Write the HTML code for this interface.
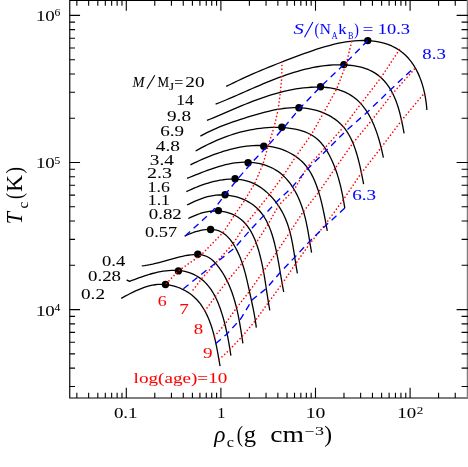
<!DOCTYPE html>
<html><head><meta charset="utf-8"><title>Tc vs rho_c</title>
<style>html,body{margin:0;padding:0;background:#fff;}body{width:468px;height:467px;overflow:hidden;font-family:"Liberation Serif",serif;}svg{display:block;}</style></head>
<body>
<svg width="468" height="467" viewBox="0 0 468 467">
<rect x="0" y="0" width="468" height="467" fill="#fff"/>
<g stroke="#000" stroke-width="1.15" fill="none" stroke-linecap="butt">
<path d="M468.00 0.50 H69.75 V397.95 H468.00"/>
<path d="M467.4 0 V398.5" stroke="#7c7c7c" stroke-width="1.25"/>
<path d="M76.84 397.95 v-5.30 M76.84 0.50 v5.30 M88.65 397.95 v-5.30 M88.65 0.50 v5.30 M97.82 397.95 v-5.30 M97.82 0.50 v5.30 M105.31 397.95 v-5.30 M105.31 0.50 v5.30 M111.65 397.95 v-5.30 M111.65 0.50 v5.30 M117.13 397.95 v-5.30 M117.13 0.50 v5.30 M121.97 397.95 v-5.30 M121.97 0.50 v5.30 M126.30 397.95 v-10.30 M126.30 0.50 v10.30 M154.78 397.95 v-5.30 M154.78 0.50 v5.30 M171.44 397.95 v-5.30 M171.44 0.50 v5.30 M183.25 397.95 v-5.30 M183.25 0.50 v5.30 M192.42 397.95 v-5.30 M192.42 0.50 v5.30 M199.91 397.95 v-5.30 M199.91 0.50 v5.30 M206.25 397.95 v-5.30 M206.25 0.50 v5.30 M211.73 397.95 v-5.30 M211.73 0.50 v5.30 M216.57 397.95 v-5.30 M216.57 0.50 v5.30 M220.90 397.95 v-10.30 M220.90 0.50 v10.30 M249.38 397.95 v-5.30 M249.38 0.50 v5.30 M266.04 397.95 v-5.30 M266.04 0.50 v5.30 M277.85 397.95 v-5.30 M277.85 0.50 v5.30 M287.02 397.95 v-5.30 M287.02 0.50 v5.30 M294.51 397.95 v-5.30 M294.51 0.50 v5.30 M300.85 397.95 v-5.30 M300.85 0.50 v5.30 M306.33 397.95 v-5.30 M306.33 0.50 v5.30 M311.17 397.95 v-5.30 M311.17 0.50 v5.30 M315.50 397.95 v-10.30 M315.50 0.50 v10.30 M343.98 397.95 v-5.30 M343.98 0.50 v5.30 M360.64 397.95 v-5.30 M360.64 0.50 v5.30 M372.45 397.95 v-5.30 M372.45 0.50 v5.30 M381.62 397.95 v-5.30 M381.62 0.50 v5.30 M389.11 397.95 v-5.30 M389.11 0.50 v5.30 M395.45 397.95 v-5.30 M395.45 0.50 v5.30 M400.93 397.95 v-5.30 M400.93 0.50 v5.30 M405.77 397.95 v-5.30 M405.77 0.50 v5.30 M410.10 397.95 v-10.30 M410.10 0.50 v10.30 M438.58 397.95 v-5.30 M438.58 0.50 v5.30 M455.24 397.95 v-5.30 M455.24 0.50 v5.30 M69.75 386.52 h5.30 M468.00 386.52 h-6.40 M69.75 368.14 h5.30 M468.00 368.14 h-6.40 M69.75 353.88 h5.30 M468.00 353.88 h-6.40 M69.75 342.23 h5.30 M468.00 342.23 h-6.40 M69.75 332.39 h5.30 M468.00 332.39 h-6.40 M69.75 323.86 h5.30 M468.00 323.86 h-6.40 M69.75 316.33 h5.30 M468.00 316.33 h-6.40 M69.75 309.60 h10.30 M468.00 309.60 h-11.40 M69.75 265.32 h5.30 M468.00 265.32 h-6.40 M69.75 239.42 h5.30 M468.00 239.42 h-6.40 M69.75 221.04 h5.30 M468.00 221.04 h-6.40 M69.75 206.78 h5.30 M468.00 206.78 h-6.40 M69.75 195.13 h5.30 M468.00 195.13 h-6.40 M69.75 185.29 h5.30 M468.00 185.29 h-6.40 M69.75 176.76 h5.30 M468.00 176.76 h-6.40 M69.75 169.23 h5.30 M468.00 169.23 h-6.40 M69.75 162.50 h10.30 M468.00 162.50 h-11.40 M69.75 118.22 h5.30 M468.00 118.22 h-6.40 M69.75 92.32 h5.30 M468.00 92.32 h-6.40 M69.75 73.94 h5.30 M468.00 73.94 h-6.40 M69.75 59.68 h5.30 M468.00 59.68 h-6.40 M69.75 48.03 h5.30 M468.00 48.03 h-6.40 M69.75 38.19 h5.30 M468.00 38.19 h-6.40 M69.75 29.66 h5.30 M468.00 29.66 h-6.40 M69.75 22.13 h5.30 M468.00 22.13 h-6.40 M69.75 15.40 h10.30 M468.00 15.40 h-11.40" stroke-width="1.1"/>
</g>
<g stroke="#000" stroke-width="1.3" fill="none" stroke-linecap="butt" stroke-linejoin="round">
<path d="M226.20 86.42 L230.09 84.48 L233.98 82.58 L237.86 80.72 L241.74 78.91 L245.61 77.13 L249.48 75.39 L253.35 73.69 L257.23 72.01 L261.11 70.37 L264.99 68.75 L268.88 67.15 L272.78 65.58 L276.70 64.02 L280.62 62.48 L284.56 60.96 L288.52 59.45 L292.50 57.94 L296.49 56.45 L300.51 54.96 L304.55 53.48 L308.61 52.02 L312.69 50.60 L316.79 49.23 L320.90 47.91 L325.04 46.67 L329.19 45.51 L333.35 44.43 L337.53 43.47 L341.72 42.62 L345.92 41.90 L350.13 41.31 L354.36 40.88 L358.59 40.61 L362.83 40.52 L367.08 40.61 L371.33 40.90 L375.57 41.40 L379.76 42.14 L383.87 43.14 L387.88 44.41 L391.77 45.97 L395.49 47.85 L399.04 50.04 L402.39 52.52 L405.54 55.27 L408.46 58.29 L411.14 61.57 L413.58 65.06 L415.78 68.76 L417.77 72.62 L419.53 76.62 L421.09 80.72 L422.45 84.91 L423.62 89.14 L424.60 93.39 L425.41 97.63 L426.06 101.84 L426.55 105.97 L426.88 110.00"/>
<path d="M215.61 104.19 L219.24 102.75 L222.88 101.26 L226.53 99.74 L230.18 98.19 L233.85 96.61 L237.52 95.01 L241.20 93.40 L244.89 91.77 L248.59 90.14 L252.30 88.52 L256.02 86.90 L259.75 85.30 L263.50 83.71 L267.25 82.15 L271.02 80.63 L274.79 79.13 L278.58 77.68 L282.39 76.28 L286.20 74.93 L290.03 73.64 L293.87 72.41 L297.72 71.26 L301.59 70.18 L305.47 69.18 L309.37 68.27 L313.28 67.46 L317.21 66.74 L321.15 66.13 L325.10 65.63 L329.08 65.24 L333.06 64.97 L337.07 64.84 L341.09 64.83 L345.13 64.97 L349.17 65.25 L353.20 65.71 L357.18 66.36 L361.10 67.23 L364.91 68.35 L368.60 69.72 L372.13 71.38 L375.49 73.35 L378.65 75.63 L381.61 78.20 L384.36 81.03 L386.90 84.10 L389.22 87.39 L391.32 90.85 L393.21 94.48 L394.90 98.24 L396.42 102.11 L397.77 106.05 L398.98 110.03 L400.06 114.04 L401.02 118.04 L401.89 122.00 L402.69 125.90 L403.41 129.71 L404.10 133.40"/>
<path d="M206.99 120.47 L210.46 119.02 L213.93 117.56 L217.39 116.07 L220.87 114.58 L224.34 113.09 L227.82 111.59 L231.30 110.09 L234.79 108.61 L238.29 107.13 L241.79 105.67 L245.30 104.23 L248.83 102.82 L252.36 101.44 L255.90 100.10 L259.46 98.79 L263.03 97.53 L266.62 96.32 L270.22 95.16 L273.83 94.06 L277.47 93.02 L281.12 92.05 L284.79 91.15 L288.48 90.33 L292.19 89.59 L295.92 88.93 L299.68 88.37 L303.45 87.90 L307.26 87.53 L311.08 87.26 L314.93 87.11 L318.78 87.08 L322.63 87.20 L326.44 87.49 L330.21 87.95 L333.92 88.61 L337.56 89.49 L341.11 90.59 L344.55 91.94 L347.87 93.55 L351.05 95.40 L354.08 97.49 L356.94 99.81 L359.62 102.35 L362.12 105.10 L364.45 108.03 L366.62 111.13 L368.63 114.38 L370.49 117.75 L372.21 121.23 L373.80 124.80 L375.26 128.44 L376.61 132.12 L377.84 135.83 L378.97 139.55 L380.01 143.26 L380.96 146.94 L381.84 150.57 L382.64 154.13 L383.38 157.60"/>
<path d="M200.40 136.12 L203.66 134.35 L206.93 132.67 L210.21 131.08 L213.51 129.56 L216.83 128.10 L220.16 126.72 L223.51 125.39 L226.88 124.11 L230.26 122.88 L233.65 121.69 L237.07 120.54 L240.50 119.42 L243.95 118.32 L247.42 117.24 L250.90 116.17 L254.40 115.12 L257.92 114.09 L261.46 113.10 L265.00 112.15 L268.57 111.26 L272.14 110.44 L275.73 109.70 L279.33 109.06 L282.93 108.52 L286.55 108.09 L290.17 107.80 L293.80 107.65 L297.44 107.64 L301.08 107.81 L304.72 108.14 L308.33 108.64 L311.92 109.32 L315.46 110.17 L318.93 111.21 L322.33 112.42 L325.64 113.82 L328.85 115.40 L331.93 117.17 L334.88 119.14 L337.69 121.29 L340.33 123.64 L342.79 126.19 L345.07 128.93 L347.14 131.87 L349.04 134.98 L350.77 138.23 L352.34 141.61 L353.76 145.08 L355.06 148.63 L356.24 152.24 L357.32 155.87 L358.31 159.51 L359.22 163.13 L360.07 166.72 L360.86 170.28 L361.60 173.80 L362.30 177.28 L362.96 180.71 L363.61 184.08"/>
<path d="M195.61 150.99 L198.59 149.31 L201.60 147.67 L204.65 146.08 L207.74 144.53 L210.86 143.04 L214.01 141.60 L217.18 140.21 L220.39 138.88 L223.62 137.61 L226.88 136.40 L230.17 135.26 L233.47 134.18 L236.80 133.18 L240.15 132.24 L243.51 131.38 L246.90 130.60 L250.30 129.89 L253.71 129.27 L257.14 128.73 L260.58 128.28 L264.04 127.91 L267.50 127.64 L270.97 127.46 L274.45 127.38 L277.93 127.39 L281.41 127.50 L284.90 127.72 L288.38 128.06 L291.83 128.52 L295.24 129.13 L298.59 129.89 L301.87 130.82 L305.06 131.94 L308.14 133.26 L311.10 134.79 L313.93 136.55 L316.60 138.55 L319.10 140.80 L321.44 143.30 L323.61 146.00 L325.63 148.88 L327.51 151.90 L329.25 155.03 L330.87 158.23 L332.37 161.46 L333.76 164.72 L335.05 167.99 L336.24 171.28 L337.34 174.58 L338.36 177.90 L339.31 181.23 L340.18 184.57 L340.98 187.92 L341.73 191.28 L342.43 194.65 L343.07 198.03 L343.68 201.42 L344.26 204.80 L344.80 208.19"/>
<path d="M190.43 164.79 L193.26 163.43 L196.14 162.09 L199.06 160.76 L202.03 159.44 L205.04 158.15 L208.09 156.89 L211.17 155.67 L214.29 154.48 L217.43 153.35 L220.60 152.26 L223.80 151.24 L227.01 150.28 L230.24 149.39 L233.49 148.58 L236.74 147.85 L240.01 147.21 L243.28 146.66 L246.56 146.21 L249.84 145.86 L253.11 145.63 L256.38 145.51 L259.64 145.52 L262.89 145.66 L266.13 145.93 L269.34 146.34 L272.54 146.89 L275.72 147.60 L278.87 148.46 L281.97 149.48 L285.02 150.65 L288.01 151.99 L290.91 153.47 L293.71 155.12 L296.41 156.92 L298.99 158.88 L301.44 161.00 L303.74 163.27 L305.87 165.71 L307.84 168.30 L309.65 171.03 L311.30 173.89 L312.81 176.84 L314.21 179.87 L315.49 182.95 L316.68 186.07 L317.78 189.23 L318.81 192.40 L319.75 195.61 L320.63 198.82 L321.45 202.05 L322.22 205.29 L322.94 208.53 L323.63 211.77 L324.28 215.00 L324.91 218.22 L325.52 221.42 L326.11 224.60 L326.71 227.76 L327.31 230.89"/>
<path d="M187.00 178.40 L189.83 177.27 L192.69 176.11 L195.57 174.95 L198.47 173.79 L201.39 172.64 L204.33 171.50 L207.30 170.39 L210.29 169.31 L213.29 168.28 L216.31 167.29 L219.35 166.37 L222.41 165.52 L225.48 164.74 L228.56 164.05 L231.66 163.45 L234.77 162.96 L237.90 162.58 L241.03 162.32 L244.18 162.19 L247.33 162.19 L250.49 162.34 L253.65 162.65 L256.79 163.10 L259.91 163.72 L262.97 164.49 L265.98 165.42 L268.91 166.52 L271.76 167.79 L274.50 169.22 L277.13 170.83 L279.63 172.62 L282.00 174.56 L284.26 176.65 L286.40 178.88 L288.42 181.24 L290.33 183.72 L292.13 186.30 L293.82 188.98 L295.41 191.74 L296.89 194.58 L298.28 197.48 L299.56 200.43 L300.75 203.42 L301.85 206.45 L302.86 209.49 L303.78 212.54 L304.62 215.60 L305.39 218.66 L306.10 221.72 L306.76 224.79 L307.36 227.87 L307.93 230.95 L308.48 234.03 L309.00 237.12 L309.51 240.21 L310.01 243.30 L310.53 246.40 L311.05 249.50 L311.60 252.60"/>
<path d="M186.33 191.70 L188.83 190.50 L191.42 189.31 L194.07 188.15 L196.79 187.02 L199.57 185.94 L202.40 184.91 L205.27 183.94 L208.18 183.03 L211.12 182.20 L214.08 181.45 L217.06 180.79 L220.05 180.23 L223.05 179.77 L226.04 179.43 L229.03 179.20 L231.99 179.11 L234.94 179.15 L237.85 179.33 L240.73 179.67 L243.57 180.17 L246.36 180.83 L249.09 181.67 L251.76 182.68 L254.37 183.85 L256.92 185.18 L259.39 186.65 L261.80 188.27 L264.13 190.02 L266.39 191.89 L268.56 193.88 L270.66 195.98 L272.67 198.17 L274.59 200.47 L276.42 202.84 L278.16 205.30 L279.80 207.83 L281.34 210.42 L282.79 213.06 L284.12 215.75 L285.36 218.48 L286.48 221.25 L287.51 224.05 L288.45 226.87 L289.30 229.72 L290.08 232.58 L290.80 235.47 L291.45 238.38 L292.05 241.29 L292.61 244.21 L293.13 247.15 L293.62 250.08 L294.09 253.01 L294.54 255.94 L294.99 258.87 L295.44 261.78 L295.90 264.69 L296.37 267.58 L296.87 270.45 L297.40 273.30"/>
<path d="M187.01 205.02 L189.47 203.80 L191.97 202.61 L194.50 201.45 L197.07 200.34 L199.67 199.30 L202.31 198.33 L204.97 197.46 L207.68 196.70 L210.41 196.06 L213.18 195.56 L215.97 195.20 L218.78 194.99 L221.60 194.92 L224.43 194.99 L227.24 195.21 L230.04 195.56 L232.81 196.05 L235.55 196.68 L238.24 197.44 L240.88 198.34 L243.46 199.37 L245.97 200.53 L248.40 201.83 L250.73 203.25 L252.97 204.80 L255.10 206.48 L257.12 208.28 L259.01 210.21 L260.77 212.25 L262.42 214.41 L263.96 216.66 L265.38 219.01 L266.71 221.43 L267.94 223.94 L269.09 226.50 L270.14 229.13 L271.13 231.80 L272.04 234.51 L272.88 237.25 L273.66 240.01 L274.39 242.78 L275.07 245.56 L275.71 248.33 L276.31 251.08 L276.88 253.82 L277.43 256.55 L277.94 259.27 L278.44 261.98 L278.92 264.69 L279.39 267.39 L279.85 270.09 L280.31 272.79 L280.76 275.50 L281.22 278.22 L281.69 280.94 L282.16 283.68 L282.66 286.44 L283.17 289.21 L283.70 292.00"/>
<path d="M188.31 218.53 L190.59 217.40 L192.94 216.32 L195.35 215.30 L197.81 214.35 L200.32 213.49 L202.86 212.74 L205.44 212.10 L208.03 211.59 L210.64 211.23 L213.26 211.01 L215.87 210.95 L218.47 211.04 L221.05 211.27 L223.60 211.66 L226.11 212.19 L228.57 212.87 L230.96 213.70 L233.29 214.67 L235.54 215.79 L237.70 217.06 L239.76 218.46 L241.72 220.01 L243.56 221.70 L245.29 223.53 L246.91 225.47 L248.43 227.52 L249.85 229.68 L251.18 231.93 L252.42 234.25 L253.58 236.64 L254.66 239.10 L255.66 241.60 L256.60 244.14 L257.47 246.70 L258.29 249.29 L259.04 251.88 L259.75 254.46 L260.42 257.04 L261.04 259.60 L261.63 262.14 L262.17 264.67 L262.69 267.19 L263.18 269.71 L263.65 272.21 L264.09 274.72 L264.51 277.22 L264.92 279.72 L265.32 282.22 L265.71 284.73 L266.09 287.24 L266.47 289.76 L266.85 292.28 L267.23 294.82 L267.62 297.37 L268.03 299.94 L268.44 302.53 L268.87 305.13 L269.33 307.75 L269.80 310.40"/>
<path d="M184.60 236.21 L186.64 235.23 L188.79 234.27 L191.04 233.35 L193.37 232.49 L195.77 231.71 L198.21 231.01 L200.69 230.42 L203.18 229.95 L205.68 229.61 L208.15 229.42 L210.59 229.39 L212.99 229.54 L215.31 229.89 L217.55 230.44 L219.69 231.22 L221.72 232.23 L223.65 233.43 L225.48 234.83 L227.21 236.39 L228.85 238.09 L230.40 239.93 L231.86 241.88 L233.24 243.92 L234.54 246.03 L235.76 248.19 L236.91 250.39 L237.99 252.61 L239.00 254.85 L239.95 257.10 L240.84 259.36 L241.68 261.64 L242.47 263.93 L243.22 266.23 L243.92 268.54 L244.59 270.86 L245.22 273.19 L245.83 275.52 L246.40 277.86 L246.96 280.21 L247.50 282.56 L248.03 284.91 L248.55 287.26 L249.07 289.62 L249.58 291.98 L250.10 294.33 L250.62 296.69 L251.14 299.04 L251.65 301.40 L252.16 303.76 L252.65 306.12 L253.14 308.49 L253.61 310.85 L254.06 313.23 L254.50 315.61 L254.91 317.99 L255.30 320.38 L255.66 322.78 L256.00 325.19 L256.30 327.60"/>
<path d="M141.80 265.88 L144.54 265.57 L147.26 265.17 L149.97 264.67 L152.68 264.10 L155.37 263.47 L158.06 262.79 L160.75 262.06 L163.44 261.31 L166.13 260.55 L168.82 259.77 L171.52 259.01 L174.24 258.27 L176.96 257.55 L179.70 256.88 L182.45 256.27 L185.22 255.72 L188.01 255.25 L190.83 254.87 L193.65 254.61 L196.46 254.51 L199.21 254.61 L201.89 254.94 L204.46 255.56 L206.90 256.49 L209.20 257.75 L211.36 259.27 L213.40 261.04 L215.33 262.99 L217.14 265.09 L218.86 267.30 L220.49 269.57 L222.04 271.89 L223.50 274.25 L224.89 276.66 L226.20 279.10 L227.44 281.58 L228.61 284.10 L229.72 286.65 L230.76 289.23 L231.74 291.84 L232.67 294.47 L233.54 297.13 L234.35 299.81 L235.12 302.50 L235.85 305.21 L236.53 307.93 L237.18 310.67 L237.78 313.41 L238.36 316.15 L238.90 318.90 L239.42 321.65 L239.91 324.40 L240.38 327.15 L240.83 329.89 L241.26 332.61 L241.69 335.33 L242.10 338.03 L242.51 340.72 L242.91 343.39"/>
<path d="M129.51 281.39 L131.92 280.47 L134.37 279.54 L136.86 278.61 L139.38 277.68 L141.93 276.78 L144.51 275.90 L147.11 275.06 L149.74 274.25 L152.40 273.50 L155.07 272.81 L157.76 272.19 L160.47 271.65 L163.20 271.18 L165.93 270.82 L168.68 270.55 L171.43 270.39 L174.17 270.35 L176.90 270.43 L179.61 270.64 L182.28 270.98 L184.91 271.47 L187.49 272.10 L190.01 272.90 L192.46 273.85 L194.83 274.96 L197.12 276.22 L199.32 277.62 L201.43 279.16 L203.44 280.84 L205.34 282.64 L207.13 284.56 L208.83 286.59 L210.42 288.72 L211.92 290.94 L213.33 293.25 L214.65 295.62 L215.89 298.07 L217.06 300.57 L218.15 303.11 L219.18 305.70 L220.15 308.32 L221.05 310.95 L221.91 313.60 L222.71 316.25 L223.47 318.90 L224.19 321.53 L224.87 324.16 L225.51 326.77 L226.12 329.39 L226.70 332.00 L227.25 334.61 L227.77 337.22 L228.27 339.83 L228.75 342.45 L229.21 345.07 L229.65 347.71 L230.08 350.36 L230.49 353.02 L230.90 355.69"/>
<path d="M121.20 298.30 L123.42 297.14 L125.67 295.94 L127.96 294.74 L130.29 293.54 L132.65 292.36 L135.04 291.21 L137.46 290.10 L139.91 289.05 L142.39 288.07 L144.89 287.18 L147.42 286.38 L149.97 285.70 L152.54 285.15 L155.13 284.74 L157.74 284.47 L160.36 284.36 L162.97 284.40 L165.59 284.57 L168.19 284.89 L170.77 285.35 L173.32 285.93 L175.84 286.65 L178.31 287.50 L180.73 288.47 L183.09 289.56 L185.39 290.76 L187.61 292.08 L189.75 293.51 L191.80 295.05 L193.76 296.70 L195.61 298.44 L197.36 300.28 L199.02 302.21 L200.58 304.22 L202.05 306.31 L203.44 308.48 L204.74 310.71 L205.97 313.01 L207.12 315.37 L208.20 317.77 L209.22 320.23 L210.16 322.72 L211.05 325.25 L211.89 327.81 L212.66 330.40 L213.40 333.00 L214.08 335.62 L214.72 338.25 L215.33 340.88 L215.90 343.51 L216.44 346.13 L216.95 348.74 L217.44 351.33 L217.91 353.90 L218.36 356.43 L218.80 358.93 L219.24 361.40 L219.66 363.81 L220.09 366.18"/>
</g>
<path d="M127 280.2 L129.5 281.4" stroke="#000" stroke-width="1.3" fill="none" stroke-linecap="round"/>
<g fill="#000">
<circle cx="367.80" cy="40.60" r="3.7"/>
<circle cx="343.90" cy="64.60" r="3.7"/>
<circle cx="320.50" cy="86.80" r="3.7"/>
<circle cx="298.90" cy="107.70" r="3.7"/>
<circle cx="281.90" cy="127.20" r="3.7"/>
<circle cx="263.80" cy="146.20" r="3.7"/>
<circle cx="248.10" cy="162.70" r="3.7"/>
<circle cx="235.10" cy="178.80" r="3.7"/>
<circle cx="225.10" cy="194.70" r="3.7"/>
<circle cx="218.40" cy="210.60" r="3.7"/>
<circle cx="210.60" cy="229.50" r="3.7"/>
<circle cx="197.80" cy="254.30" r="3.7"/>
<circle cx="178.40" cy="270.90" r="3.7"/>
<circle cx="165.50" cy="284.50" r="3.7"/>
</g>
<g stroke="#ff0000" stroke-width="1.65" fill="none" stroke-dasharray="0.01 3.66" stroke-linecap="round">
<path d="M282.00 61.80 L281.80 76.70 L280.40 92.60 L278.00 110.20 L273.90 128.00 L268.00 146.30 L263.00 164.20 L254.50 183.70 L244.50 200.50 L234.50 215.00 L224.00 231.50 L201.30 254.80 L178.40 270.90 L165.50 284.50"/>
<path d="M351.60 41.70 L346.00 64.80 L336.50 89.30 L323.80 112.40 L311.30 134.70 L296.30 155.80 L283.00 176.00 L269.70 194.30 L258.00 209.00 L245.50 224.50 L232.80 244.10 L216.80 261.80 L201.80 278.50 L191.00 292.60"/>
<path d="M399.40 49.70 L381.00 77.60 L360.50 104.30 L343.40 127.20 L324.60 148.30 L307.20 167.30 L294.00 190.00 L278.90 205.00 L268.00 224.40 L256.00 243.00 L242.00 263.30 L226.90 281.60 L215.00 297.00 L204.60 311.20"/>
<path d="M414.40 69.10 L391.90 94.30 L371.90 120.00 L352.70 143.40 L335.20 168.30 L318.60 192.30 L302.70 212.50 L288.50 234.20 L276.50 252.50 L263.30 271.50 L249.30 291.50 L236.60 307.80 L225.20 323.80 L214.40 336.50"/>
<path d="M422.70 95.10 L401.90 120.00 L381.10 147.60 L361.00 173.50 L343.60 199.30 L326.10 223.40 L310.20 243.10 L295.20 264.30 L282.00 284.00 L268.40 302.50 L255.10 320.90 L242.60 335.90 L230.00 349.30 L219.20 359.30"/>
</g>
<g stroke="#0000ff" stroke-width="1.35" fill="none" stroke-linecap="butt">
<path d="M367.80 40.60 L343.90 64.60 L320.50 86.80 L300.30 107.80 L284.00 127.40 L267.40 146.30 L251.50 163.00 L237.50 179.20 L225.10 194.70 L212.60 211.00 L185.20 236.00" stroke-dasharray="6.600 4.759"/>
<path d="M183.40 288.80 L198.00 277.00 L215.70 263.00 L234.60 248.00 L250.10 230.20 L263.70 215.60 L276.00 202.50 L292.30 187.00 L308.00 168.50 L326.20 150.60 L346.00 130.90 L367.70 111.70 L391.00 89.30 L412.50 69.10" stroke-dasharray="6.600 4.859"/>
<path d="M344.80 208.00 L326.30 225.00 L310.00 240.90 L294.40 257.60 L280.20 272.50 L266.30 288.50 L252.30 299.80 L240.40 319.30 L226.70 334.20 L215.80 343.40" stroke-dasharray="6.600 4.729"/>
</g>
<g font-family="'Liberation Serif', serif" opacity="0.999" stroke-width="0.05" paint-order="stroke">
<text x="132.5" y="87.0" font-size="15.5" fill="#000" stroke="#000" textLength="12.0" lengthAdjust="spacingAndGlyphs" font-style="italic">M</text>
<path d="M146.9 88.8 L154.8 75.3" stroke="#000" stroke-width="1.1" fill="none"/>
<text x="157.6" y="87.0" font-size="15.5" fill="#000" stroke="#000" textLength="11.6" lengthAdjust="spacingAndGlyphs">M</text>
<text x="168.9" y="89.6" font-size="10.5" fill="#000" stroke="#000" textLength="5.1" lengthAdjust="spacingAndGlyphs">J</text>
<text x="174.2" y="87.0" font-size="15.5" fill="#000" stroke="#000" textLength="9.0" lengthAdjust="spacingAndGlyphs">=</text>
<text x="185.3" y="87.0" font-size="15.5" fill="#000" stroke="#000" textLength="19.2" lengthAdjust="spacingAndGlyphs">20</text>
<text x="176.2" y="104.5" font-size="15.5" fill="#000" stroke="#000" textLength="17.4" lengthAdjust="spacingAndGlyphs">14</text>
<text x="167.0" y="120.5" font-size="15.5" fill="#000" stroke="#000" textLength="24.0" lengthAdjust="spacingAndGlyphs">9.8</text>
<text x="160.2" y="136.0" font-size="15.5" fill="#000" stroke="#000" textLength="23.8" lengthAdjust="spacingAndGlyphs">6.9</text>
<text x="155.8" y="151.3" font-size="15.5" fill="#000" stroke="#000" textLength="24.2" lengthAdjust="spacingAndGlyphs">4.8</text>
<text x="149.8" y="165.0" font-size="15.5" fill="#000" stroke="#000" textLength="24.0" lengthAdjust="spacingAndGlyphs">3.4</text>
<text x="147.0" y="178.4" font-size="15.5" fill="#000" stroke="#000" textLength="25.0" lengthAdjust="spacingAndGlyphs">2.3</text>
<text x="147.6" y="191.6" font-size="15.5" fill="#000" stroke="#000" textLength="22.2" lengthAdjust="spacingAndGlyphs">1.6</text>
<text x="147.8" y="205.2" font-size="15.5" fill="#000" stroke="#000" textLength="22.2" lengthAdjust="spacingAndGlyphs">1.1</text>
<text x="148.8" y="219.2" font-size="15.5" fill="#000" stroke="#000" textLength="33.0" lengthAdjust="spacingAndGlyphs">0.82</text>
<text x="145.1" y="236.7" font-size="15.5" fill="#000" stroke="#000" textLength="32.1" lengthAdjust="spacingAndGlyphs">0.57</text>
<text x="102.0" y="266.3" font-size="15.5" fill="#000" stroke="#000" textLength="23.2" lengthAdjust="spacingAndGlyphs">0.4</text>
<text x="88.0" y="281.2" font-size="15.5" fill="#000" stroke="#000" textLength="33.0" lengthAdjust="spacingAndGlyphs">0.28</text>
<text x="81.0" y="298.5" font-size="15.5" fill="#000" stroke="#000" textLength="24.0" lengthAdjust="spacingAndGlyphs">0.2</text>
<text x="157.7" y="306.0" font-size="15.5" fill="#ff0000" stroke="#ff0000" textLength="8.9" lengthAdjust="spacingAndGlyphs">6</text>
<text x="179.2" y="314.0" font-size="15.5" fill="#ff0000" stroke="#ff0000" textLength="9.6" lengthAdjust="spacingAndGlyphs">7</text>
<text x="193.7" y="333.7" font-size="15.5" fill="#ff0000" stroke="#ff0000" textLength="9.4" lengthAdjust="spacingAndGlyphs">8</text>
<text x="203.0" y="358.4" font-size="15.5" fill="#ff0000" stroke="#ff0000" textLength="9.6" lengthAdjust="spacingAndGlyphs">9</text>
<text x="133.6" y="383.0" font-size="15.5" fill="#ff0000" stroke="#ff0000" textLength="93.7" lengthAdjust="spacingAndGlyphs">log(age)=10</text>
<text x="293.5" y="34.2" font-size="15.5" fill="#0000ff" stroke="#0000ff" textLength="10.3" lengthAdjust="spacingAndGlyphs" font-style="italic">S</text>
<path d="M304.5 37.2 L312.9 22" stroke="#0000ff" stroke-width="1.1" fill="none"/>
<text x="314.6" y="34.9" font-size="17.0" fill="#0000ff" stroke="#0000ff" textLength="4.6" lengthAdjust="spacingAndGlyphs">(</text>
<text x="319.7" y="34.2" font-size="15.5" fill="#0000ff" stroke="#0000ff" textLength="11.1" lengthAdjust="spacingAndGlyphs">N</text>
<text x="331.8" y="39.4" font-size="10.5" fill="#0000ff" stroke="#0000ff" textLength="5.8" lengthAdjust="spacingAndGlyphs">A</text>
<text x="338.3" y="34.2" font-size="15.5" fill="#0000ff" stroke="#0000ff" textLength="8.4" lengthAdjust="spacingAndGlyphs">k</text>
<text x="347.9" y="39.4" font-size="10.5" fill="#0000ff" stroke="#0000ff" textLength="5.5" lengthAdjust="spacingAndGlyphs">B</text>
<text x="354.2" y="34.9" font-size="17.0" fill="#0000ff" stroke="#0000ff" textLength="4.6" lengthAdjust="spacingAndGlyphs">)</text>
<text x="362.8" y="34.2" font-size="15.5" fill="#0000ff" stroke="#0000ff" textLength="10.5" lengthAdjust="spacingAndGlyphs">=</text>
<text x="377.8" y="34.0" font-size="15.5" fill="#0000ff" stroke="#0000ff" textLength="32.2" lengthAdjust="spacingAndGlyphs">10.3</text>
<text x="422.3" y="59.4" font-size="15.5" fill="#0000ff" stroke="#0000ff" textLength="23.5" lengthAdjust="spacingAndGlyphs">8.3</text>
<text x="352.2" y="199.5" font-size="15.5" fill="#0000ff" stroke="#0000ff" textLength="23.8" lengthAdjust="spacingAndGlyphs">6.3</text>
<text x="35.9" y="21.2" font-size="15.5" fill="#000" stroke="#000" textLength="18.9" lengthAdjust="spacingAndGlyphs">10</text>
<text x="54.6" y="16.4" font-size="10.8" fill="#000" stroke="#000" textLength="5.8" lengthAdjust="spacingAndGlyphs">6</text>
<text x="35.9" y="168.3" font-size="15.5" fill="#000" stroke="#000" textLength="18.9" lengthAdjust="spacingAndGlyphs">10</text>
<text x="54.6" y="163.5" font-size="10.8" fill="#000" stroke="#000" textLength="5.8" lengthAdjust="spacingAndGlyphs">5</text>
<text x="35.9" y="315.7" font-size="15.5" fill="#000" stroke="#000" textLength="18.9" lengthAdjust="spacingAndGlyphs">10</text>
<text x="54.6" y="310.9" font-size="10.8" fill="#000" stroke="#000" textLength="5.8" lengthAdjust="spacingAndGlyphs">4</text>
<text x="113.9" y="417.7" font-size="15.5" fill="#000" stroke="#000" textLength="23.7" lengthAdjust="spacingAndGlyphs">0.1</text>
<text x="217.3" y="417.7" font-size="15.5" fill="#000" stroke="#000" textLength="8.0" lengthAdjust="spacingAndGlyphs">1</text>
<text x="305.7" y="417.9" font-size="15.5" fill="#000" stroke="#000" textLength="19.7" lengthAdjust="spacingAndGlyphs">10</text>
<text x="397.3" y="417.9" font-size="15.5" fill="#000" stroke="#000" textLength="18.9" lengthAdjust="spacingAndGlyphs">10</text>
<text x="416.8" y="414.2" font-size="10.8" fill="#000" stroke="#000" textLength="6.5" lengthAdjust="spacingAndGlyphs">2</text>
<text x="214.2" y="441.7" font-size="22.5" fill="#000" stroke="#000" textLength="11.2" lengthAdjust="spacingAndGlyphs" font-style="italic" stroke-width="0">&#961;</text>
<text x="226.8" y="447.4" font-size="15.0" fill="#000" stroke="#000" textLength="7.2" lengthAdjust="spacingAndGlyphs">c</text>
<text x="236.7" y="441.7" font-size="22.5" fill="#000" stroke="#000" textLength="6.3" lengthAdjust="spacingAndGlyphs"  stroke-width="0">(</text>
<text x="243.7" y="441.7" font-size="22.5" fill="#000" stroke="#000" textLength="12.3" lengthAdjust="spacingAndGlyphs"  stroke-width="0">g</text>
<text x="270.3" y="441.7" font-size="22.5" fill="#000" stroke="#000" textLength="33.7" lengthAdjust="spacingAndGlyphs"  stroke-width="0">cm</text>
<text x="304.8" y="435.8" font-size="14.0" fill="#000" stroke="#000" textLength="9.8" lengthAdjust="spacingAndGlyphs">&#8722;</text>
<text x="315.1" y="435.2" font-size="12.0" fill="#000" stroke="#000" textLength="9.0" lengthAdjust="spacingAndGlyphs">3</text>
<text x="324.2" y="441.7" font-size="22.5" fill="#000" stroke="#000" textLength="7.8" lengthAdjust="spacingAndGlyphs"  stroke-width="0">)</text>
<g transform="translate(22,221) rotate(-90)">
<text x="-3.2" y="0.0" font-size="22.5" fill="#000" stroke="#000" textLength="12.2" lengthAdjust="spacingAndGlyphs" font-style="italic" stroke-width="0">T</text>
<text x="12.4" y="6.3" font-size="15.0" fill="#000" stroke="#000" textLength="6.8" lengthAdjust="spacingAndGlyphs">c</text>
<text x="22.0" y="0.0" font-size="22.5" fill="#000" stroke="#000" textLength="6.0" lengthAdjust="spacingAndGlyphs"  stroke-width="0">(</text>
<text x="29.0" y="0.0" font-size="22.5" fill="#000" stroke="#000" textLength="17.0" lengthAdjust="spacingAndGlyphs"  stroke-width="0">K</text>
<text x="47.5" y="0.0" font-size="22.5" fill="#000" stroke="#000" textLength="6.5" lengthAdjust="spacingAndGlyphs"  stroke-width="0">)</text>
</g>
</g>
</svg>
</body></html>
